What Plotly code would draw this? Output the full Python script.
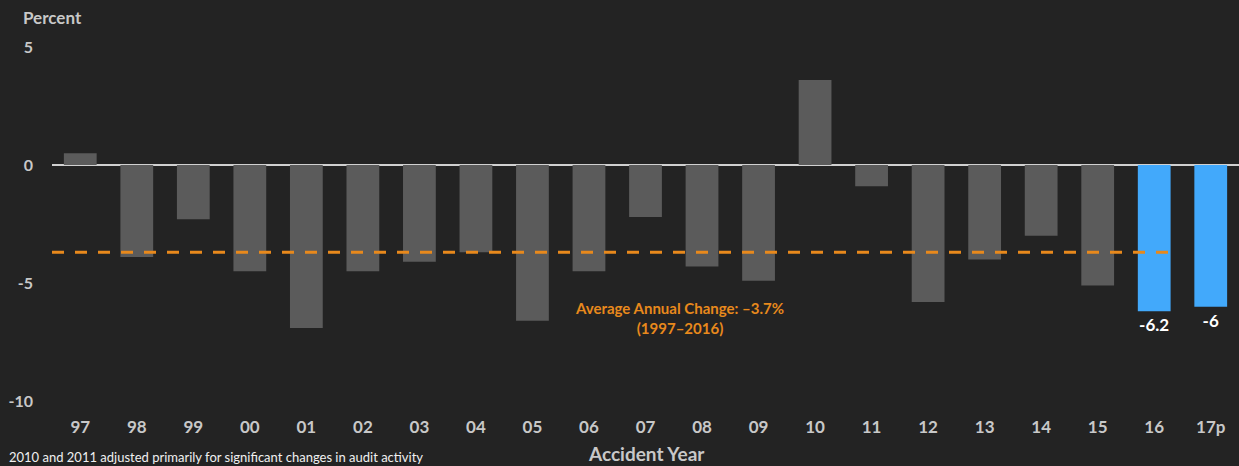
import plotly.graph_objects as go

years = ["97", "98", "99", "00", "01", "02", "03", "04", "05", "06", "07",
         "08", "09", "10", "11", "12", "13", "14", "15", "16", "17p"]
changes = [0.5, -3.9, -2.3, -4.5, -6.9, -4.5, -4.1, -3.7, -6.6, -4.5, -2.2,
           -4.3, -4.9, 3.6, -0.9, -5.8, -4.0, -3.0, -5.1, -6.2, -6.0]
highlight_years = ["16", "17p"]
highlight_labels = ["-6.2", "-6"]
avg_change = -3.7
avg_label = "Average Annual Change: \u20133.7%<br>(1997\u20132016)"
y_ticks = [5, 0, -5, -10]
y_tick_text = ["5", "0", "-5", "-10"]

BG = "#232323"
GRAY = "#5b5b5b"
BLUE = "#42a9fb"
ORANGE = "#e8891c"
TXT = "#c8c8c8"
FONT = "Lato"

gray_x = [y for y in years if y not in highlight_years]
gray_v = [v for y, v in zip(years, changes) if y not in highlight_years]
blue_v = [v for y, v in zip(years, changes) if y in highlight_years]

fig = go.Figure()
fig.add_trace(go.Bar(x=gray_x, y=gray_v, marker_color=GRAY, marker_line_width=0,
                     width=0.58, hoverinfo="x+y"))
fig.add_trace(go.Bar(x=highlight_years, y=blue_v, marker_color=BLUE, marker_line_width=0,
                     width=0.58, text=highlight_labels, textposition="outside",
                     textfont=dict(family=FONT, size=17, color="#ffffff", weight="bold"),
                     cliponaxis=False, hoverinfo="x+y"))

fig.add_shape(type="line", xref="x", yref="y", x0=-0.5, x1=19.3,
              y0=avg_change, y1=avg_change,
              line=dict(color=ORANGE, width=3, dash="12px,11px"), layer="above")

fig.add_annotation(x=10.6, y=-6.5, xref="x", yref="y", text=avg_label, showarrow=False,
                   font=dict(family=FONT, size=15, color=ORANGE, weight="bold"),
                   align="center")

fig.update_layout(
    width=1239, height=466,
    paper_bgcolor=BG, plot_bgcolor=BG,
    margin=dict(l=52, r=0, t=30, b=51),
    showlegend=False,
    barmode="overlay",
    xaxis=dict(type="category", categoryorder="array", categoryarray=years,
               range=[-0.5, 20.5], showgrid=False, showline=False, zeroline=False,
               ticks="", tickfont=dict(family=FONT, size=17, color=TXT, weight="bold")),
    yaxis=dict(range=[-10.59, 5.72], tickvals=y_ticks, ticktext=y_tick_text,
               showgrid=False, showline=False,
               zeroline=True, zerolinecolor="#d0d0d0", zerolinewidth=2,
               ticks="", ticklabelstandoff=18,
               tickfont=dict(family=FONT, size=16, color=TXT, weight="bold")),
)

# Paper-positioned texts (pixel based conversion)
pl, pt, pw, ph = 52, 30, 1239 - 52, 466 - 30 - 51
def px(xp):
    return (xp - pl) / pw
def py(yp):
    return 1 - (yp - pt) / ph

fig.add_annotation(x=px(21), y=py(18), xref="paper", yref="paper", text="Percent",
                   showarrow=False, xanchor="left", yanchor="middle",
                   font=dict(family=FONT, size=17, color=TXT, weight="bold"))
fig.add_annotation(x=px(647), y=py(453), xref="paper", yref="paper", text="Accident Year",
                   showarrow=False, xanchor="center", yanchor="middle",
                   font=dict(family=FONT, size=19, color=TXT, weight="bold"))
fig.add_annotation(x=px(7), y=py(457), xref="paper", yref="paper",
                   text="2010 and 2011 adjusted primarily for significant changes in audit activity",
                   showarrow=False, xanchor="left", yanchor="middle",
                   font=dict(family=FONT, size=13, color="#f0f0f0"))

fig.write_html("out.html")
